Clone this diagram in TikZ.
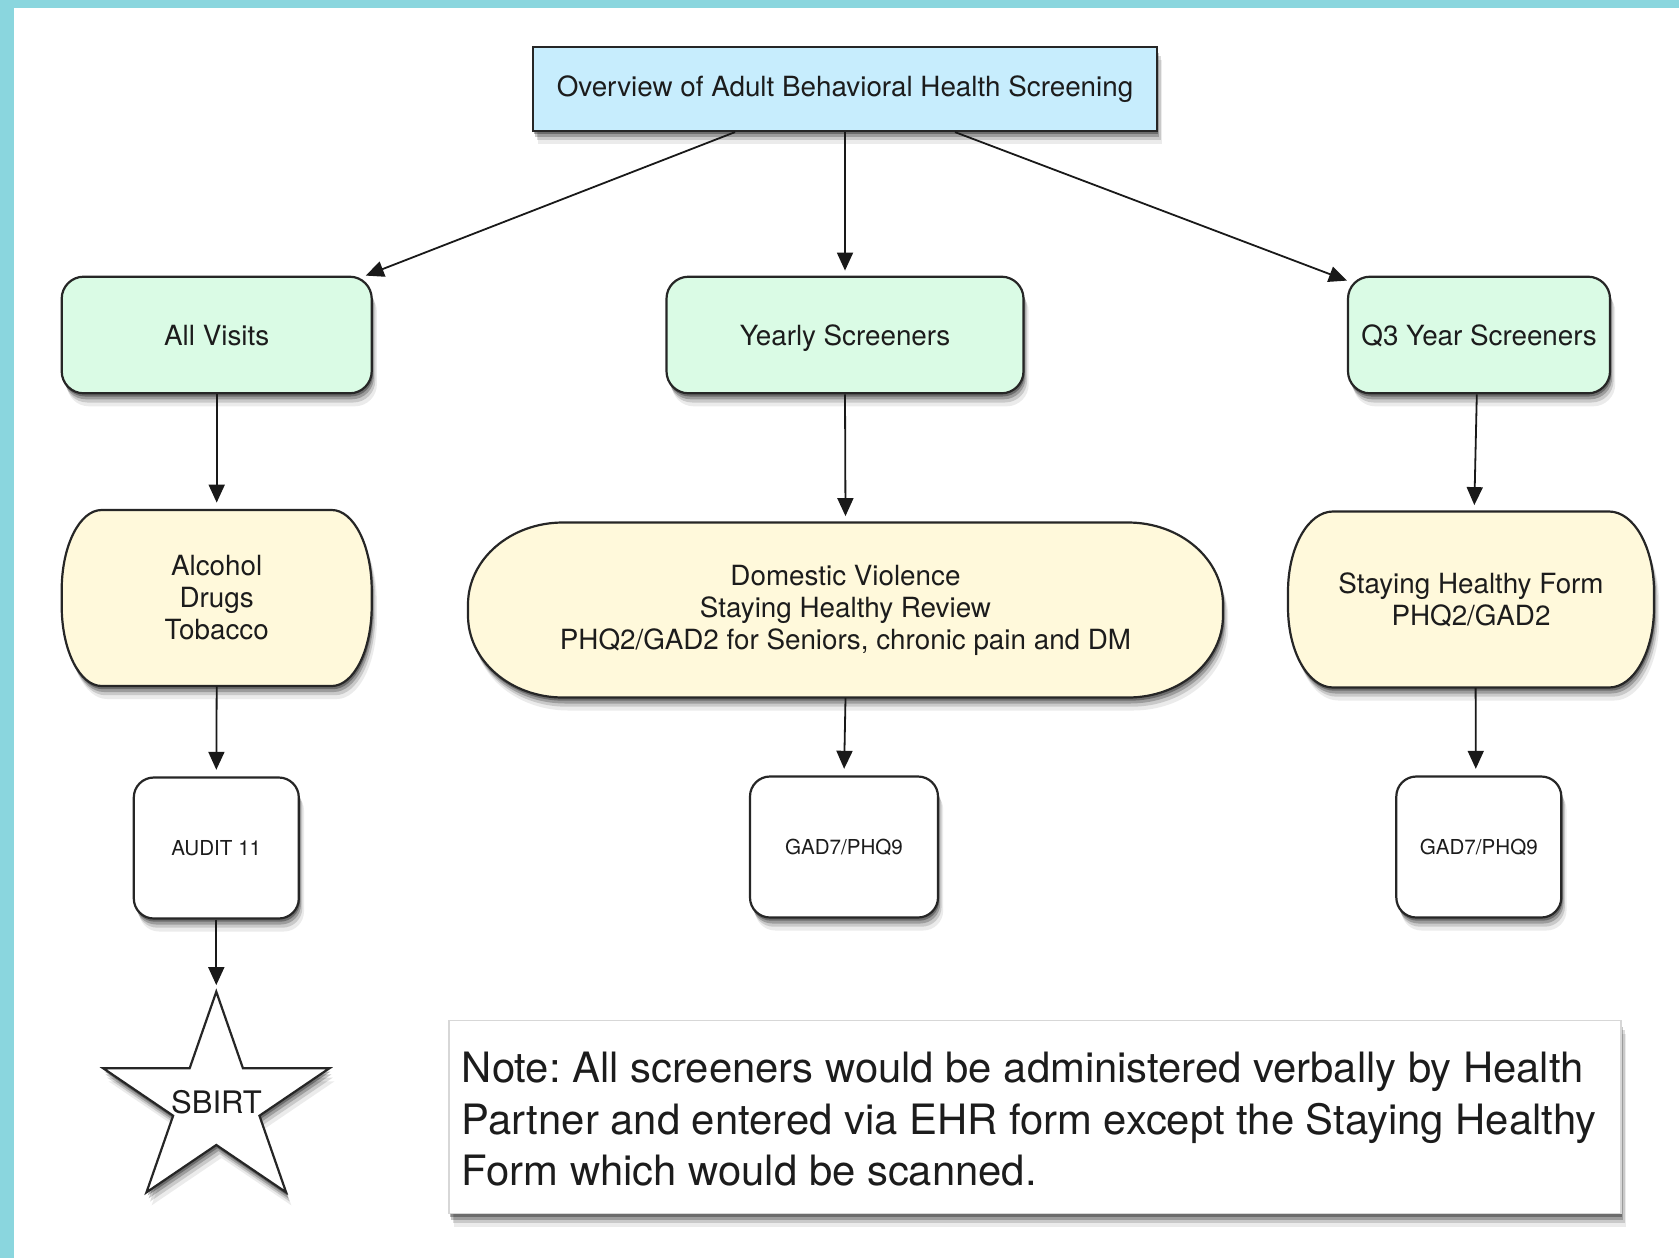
\documentclass[tikz,border=0pt]{standalone}
\usepackage{fontspec}
\setmainfont{TeX Gyre Heros}
\usetikzlibrary{arrows.meta,shadows}
\definecolor{bgteal}{RGB}{138,214,222}
\definecolor{boxblue}{RGB}{199,237,253}
\definecolor{boxmint}{RGB}{218,251,229}
\definecolor{boxyellow}{RGB}{255,249,219}
\definecolor{txt}{RGB}{28,28,28}
\definecolor{notegray}{RGB}{215,215,215}

\newcommand\pillshape[6]{% cx cy w h rx ry
  \path[outline, softshadow, fill=boxyellow]
    ({#1-#3/2+#5},{#2+#4/2}) -- ({#1+#3/2-#5},{#2+#4/2})
    arc[start angle=90,end angle=0,x radius=#5,y radius=#6]
    -- ({#1+#3/2},{#2-#4/2+#6})
    arc[start angle=0,end angle=-90,x radius=#5,y radius=#6]
    -- ({#1-#3/2+#5},{#2-#4/2})
    arc[start angle=-90,end angle=-180,x radius=#5,y radius=#6]
    -- ({#1-#3/2},{#2+#4/2-#6})
    arc[start angle=180,end angle=90,x radius=#5,y radius=#6]
    -- cycle;}

\begin{document}
\frenchspacing
\begin{tikzpicture}[x=0.5pt,y=0.5pt,
  every node/.style={text=txt},
  softshadow/.style={
    drop shadow={shadow xshift=2.6pt,shadow yshift=-6.5pt,opacity=0.08,fill=black},
    drop shadow={shadow xshift=1.8pt,shadow yshift=-4.6pt,opacity=0.14,fill=black},
    drop shadow={shadow xshift=1.1pt,shadow yshift=-3pt,opacity=0.22,fill=black},
    drop shadow={shadow xshift=0.6pt,shadow yshift=-1.6pt,opacity=0.3,fill=black}},
  outline/.style={draw=black!85, line width=1.1pt},
  titlebox/.style={outline, softshadow, fill=boxblue, minimum width=312pt,
    minimum height=42pt, inner sep=0pt, font=\fontsize{13.9}{16}\selectfont},
  catbox/.style={outline, softshadow, fill=boxmint, rounded corners=11pt,
    minimum height=58.3pt, inner sep=0pt, text height=10pt, text depth=0pt,
    font=\fontsize{13.9}{16}\selectfont},
  pilltext/.style={inner sep=0pt, align=center, font=\fontsize{13.9}{16}\selectfont},
  toolbox/.style={outline, softshadow, fill=white, rounded corners=10pt,
    minimum height=70.5pt, inner sep=0pt, font=\fontsize{10.3}{12}\selectfont},
  notebox/.style={draw=notegray, line width=0.6pt, softshadow, fill=white,
    minimum width=586pt, minimum height=96.5pt, inner sep=0pt},
  conn/.style={line width=0.9pt, draw=black!90, -{Triangle[length=9pt,width=8pt]}},
]
\useasboundingbox (0,0) rectangle (1679,-1258);
\fill[bgteal] (0,0) rectangle (1679,-1258);
\fill[white] (14,-8) rectangle (1679,-1258);

% title
\node[titlebox] (top) at (845,-89) {Overview of Adult Behavioral Health Screening};

% categories
\node[catbox, minimum width=155pt] (allv) at (216.7,-335) {All Visits};
\node[catbox, minimum width=178.5pt] (year) at (845,-335) {Yearly Screeners};
\node[catbox, minimum width=131pt] (q3) at (1479,-335) {Q3 Year Screeners};

% yellow pills
\pillshape{216.7}{-598}{310}{176}{40}{80}
\node[pilltext, minimum width=155pt, minimum height=88pt] (alc) at (216.7,-598)
  {Alcohol\\Drugs\\Tobacco};
\pillshape{845.5}{-610}{755}{175}{95}{82}
\node[pilltext, minimum width=377.5pt, minimum height=87.5pt] (dom) at (845.5,-610)
  {Domestic Violence\\Staying Healthy Review\\PHQ2/GAD2 for Seniors, chronic pain and DM};
\pillshape{1471}{-599.5}{366}{176}{45}{80}
\node[pilltext, minimum width=183pt, minimum height=88pt] (stay) at (1471,-599.5)
  {Staying Healthy Form\\PHQ2/GAD2};

% tools
\node[toolbox, minimum width=82.5pt] (audit) at (216.3,-848) {AUDIT 11};
\node[toolbox, minimum width=94pt] (gadm) at (844,-847) {GAD7/PHQ9};
\node[toolbox, minimum width=82.5pt] (gadr) at (1478.8,-847) {GAD7/PHQ9};

% star
\begin{scope}[shift={(216.3,-1102.6)}, x=59.4pt, y=55.45pt]
  \path[outline, softshadow, fill=white]
    (90:1) -- (126:0.382) -- (162:1) -- (198:0.382) -- (234:1) -- (270:0.382)
    -- (306:1) -- (342:0.382) -- (18:1) -- (54:0.382) -- cycle;
  \coordinate (startop) at (90:1);
\end{scope}
\node[inner sep=0pt, font=\fontsize{15.5}{18}\selectfont] (sbirt) at (216.5,-1102) {SBIRT};

% note
\node[notebox] (note) at (1035,-1117) {};
\node[anchor=north west, inner sep=0pt, align=left,
      font=\fontsize{20.9}{25.6}\selectfont] (notetext) at (461.5,-1052)
  {Note: All screeners would be administered verbally by Health\\
   Partner and entered via EHR form except the Staying Healthy\\
   Form which would be scanned.};

% connectors
\draw[conn] ([xshift=-55pt]top.south) -- ([xshift=-3.5pt]allv.north east);
\draw[conn, shorten >=2.5pt] (top.south) -- (year.north);
\draw[conn] ([xshift=55pt]top.south) -- ([yshift=-2.5pt]q3.north west);
\draw[conn, shorten >=3.5pt] (allv.south) -- (alc.north);
\draw[conn, shorten >=3pt] (year.south) -- (dom.north);
\draw[conn, shorten >=3pt] ([xshift=-1.1pt]q3.south) -- ([xshift=1.6pt]stay.north);
\draw[conn, shorten >=3.3pt] (alc.south) -- (audit.north);
\draw[conn, shorten >=3.3pt] (dom.south) -- (gadm.north);
\draw[conn, shorten >=3.3pt] ([xshift=2.3pt]stay.south) -- ([xshift=-1.5pt]gadr.north);
\draw[conn, shorten >=3.3pt] (audit.south) -- (startop);
\end{tikzpicture}
\end{document}
